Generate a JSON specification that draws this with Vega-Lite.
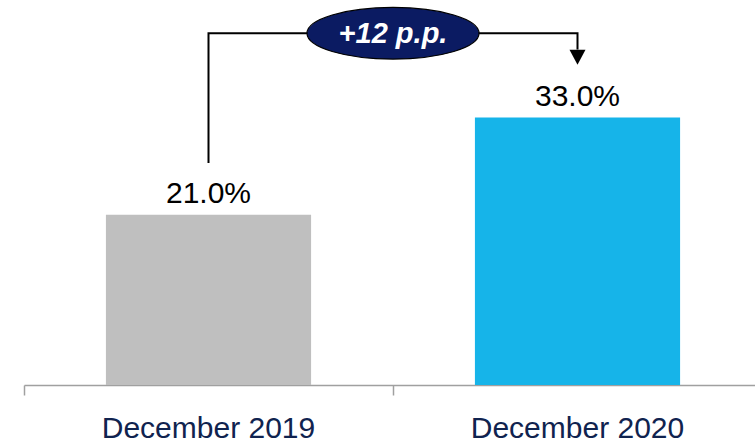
{
  "$schema": "https://vega.github.io/schema/vega-lite/v6.json",
  "width": 738,
  "height": 385,
  "autosize": {"type": "none"},
  "padding": {"left": 24, "top": 0, "right": 0, "bottom": 59},
  "background": "white",
  "config": {"view": {"stroke": null}, "font": "Liberation Sans"},
  "datasets": {
    "bars": [
      {"cat": "December 2019", "value": 21.0, "label": "21.0%"},
      {"cat": "December 2020", "value": 33.0, "label": "33.0%"}
    ],
    "bracket": [
      {"cat": "December 2019", "y": 27.4, "o": 1},
      {"cat": "December 2019", "y": 43.4, "o": 2},
      {"cat": "December 2020", "y": 43.4, "o": 3},
      {"cat": "December 2020", "y": 41.4, "o": 4}
    ],
    "arrow": [{"cat": "December 2020", "y": 40.43}],
    "badge": [{"cat": "December 2019", "y": 43.4, "text": "+12 p.p."}]
  },
  "encoding": {
    "x": {
      "field": "cat", "type": "nominal", "sort": null,
      "scale": {"paddingInner": 0, "paddingOuter": 0},
      "axis": {
        "title": null, "labelAngle": 0, "bandPosition": 0, "labelLimit": 0,
        "domainColor": "#A0A0A0", "domainWidth": 1.5,
        "tickColor": "#A0A0A0", "tickWidth": 1.5, "tickSize": 10,
        "labelFont": "Liberation Sans", "labelFontSize": 30, "labelColor": "#10234F",
        "labelBaseline": "alphabetic", "labelPadding": 42
      }
    }
  },
  "layer": [
    {
      "data": {"name": "bars"},
      "mark": {"type": "bar", "width": {"band": 0.556}},
      "encoding": {
        "y": {"field": "value", "type": "quantitative", "scale": {"domain": [0, 47.5], "nice": false}, "axis": null},
        "color": {"field": "cat", "type": "nominal", "scale": {"range": ["#BFBFBF", "#16B4E9"]}, "legend": null}
      }
    },
    {
      "data": {"name": "bars"},
      "mark": {"type": "text", "dy": -12, "baseline": "alphabetic", "fontSize": 30, "font": "Liberation Sans", "color": "#000000"},
      "encoding": {
        "y": {"field": "value", "type": "quantitative"},
        "text": {"field": "label"}
      }
    },
    {
      "data": {"name": "bracket"},
      "mark": {"type": "line", "color": "#000000", "strokeWidth": 2, "interpolate": "linear"},
      "encoding": {
        "y": {"field": "y", "type": "quantitative"},
        "order": {"field": "o", "type": "quantitative"}
      }
    },
    {
      "data": {"name": "arrow"},
      "mark": {"type": "point", "shape": "M-1,-0.94 L1,-0.94 L0,0.94 Z", "size": 256, "filled": true, "color": "#000000", "opacity": 1},
      "encoding": {
        "y": {"field": "y", "type": "quantitative"}
      }
    },
    {
      "data": {"name": "badge"},
      "mark": {"type": "point", "shape": "M-1,0 C-1,-0.165 -0.552,-0.3 0,-0.3 C0.552,-0.3 1,-0.165 1,0 C1,0.165 0.552,0.3 0,0.3 C-0.552,0.3 -1,0.165 -1,0 Z", "size": 29584, "filled": true, "fill": "#0B1B62", "stroke": "#000000", "strokeWidth": 1.2, "opacity": 1},
      "encoding": {
        "x": {"field": "cat", "type": "nominal", "bandPosition": 1},
        "y": {"field": "y", "type": "quantitative"}
      }
    },
    {
      "data": {"name": "badge"},
      "mark": {"type": "text", "fontSize": 29, "fontWeight": "bold", "fontStyle": "italic", "font": "Liberation Sans", "color": "#FFFFFF", "baseline": "middle", "dy": 1},
      "encoding": {
        "x": {"field": "cat", "type": "nominal", "bandPosition": 1},
        "y": {"field": "y", "type": "quantitative"},
        "text": {"field": "text"}
      }
    }
  ]
}
